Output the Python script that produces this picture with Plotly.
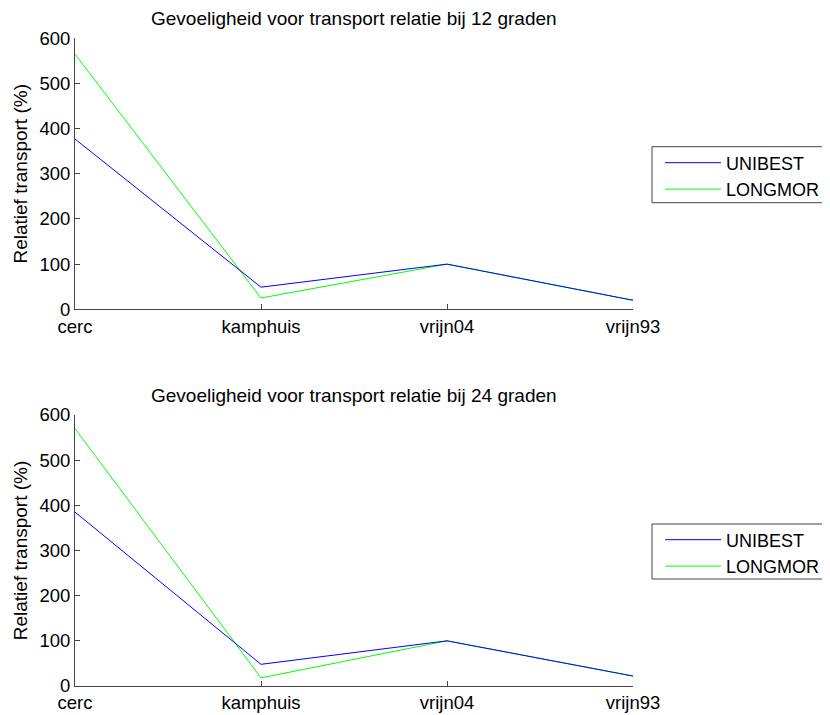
import plotly.graph_objects as go

# page is rendered inside a body with an 8px default margin
OFF = 8
W, H = 830 - OFF, 715 - OFF

categories = ["cerc", "kamphuis", "vrijn04", "vrijn93"]
unibest_12 = [377, 49, 100, 20]
longmor_12 = [565, 25, 100, 20]
unibest_24 = [385, 48, 100, 22]
longmor_24 = [570, 18, 100, 22]
y_ticks = [0, 100, 200, 300, 400, 500, 600]
titles = ["Gevoeligheid voor transport relatie bij 12 graden",
          "Gevoeligheid voor transport relatie bij 24 graden"]
ylabel = "Relatief transport (%)"

FONT = "Liberation Sans, Arial, sans-serif"
AX = "#444444"
BLUE = "#0000ff"
GREEN = "#00ff00"


def px_x(p):
    return (p - OFF) / W


def px_y(p):
    return 1 - (p - OFF) / H


fig = go.Figure()

fig.add_trace(go.Scatter(x=categories, y=longmor_12, mode="lines", name="LONGMOR",
                         line=dict(color=GREEN, width=1), xaxis="x", yaxis="y", legend="legend"))
fig.add_trace(go.Scatter(x=categories, y=unibest_12, mode="lines", name="UNIBEST",
                         line=dict(color=BLUE, width=1), xaxis="x", yaxis="y", legend="legend"))
fig.add_trace(go.Scatter(x=categories, y=longmor_24, mode="lines", name="LONGMOR",
                         line=dict(color=GREEN, width=1), xaxis="x2", yaxis="y2", legend="legend2"))
fig.add_trace(go.Scatter(x=categories, y=unibest_24, mode="lines", name="UNIBEST",
                         line=dict(color=BLUE, width=1), xaxis="x2", yaxis="y2", legend="legend2"))

xdom = [px_x(75), px_x(633)]
axis_common = dict(showgrid=False, zeroline=False, showline=True, linecolor=AX, linewidth=1,
                   ticks="inside", ticklen=5, tickcolor=AX, mirror=False,
                   tickfont=dict(family=FONT, size=18.5, color="black"), automargin=False)

xcommon = dict(axis_common, type="category", categoryorder="array", categoryarray=categories,
               range=[0, 3], domain=xdom)
ycommon = dict(axis_common, range=[0, 600], tickvals=y_ticks,
               title=dict(text=ylabel, font=dict(family=FONT, size=19, color="black"), standoff=6))

legend_common = dict(bgcolor="rgba(0,0,0,0)", borderwidth=0, traceorder="reversed",
                     font=dict(family=FONT, size=18, color="black"), xanchor="left", yanchor="top",
                     x=px_x(660), tracegroupgap=0, itemwidth=56)

# legend frames (top, bottom) in page pixels
frames = [(652, 146.7, 840, 202.7), (652, 524, 840, 579)]
shapes = [dict(type="rect", xref="paper", yref="paper", x0=px_x(a), x1=px_x(c),
               y0=px_y(d), y1=px_y(b), line=dict(color=AX, width=1), fillcolor="white",
               layer="above") for a, b, c, d in frames]

fig.update_layout(
    width=W, height=H,
    margin=dict(l=0, r=0, t=0, b=0),
    paper_bgcolor="white", plot_bgcolor="white",
    font=dict(family=FONT, size=18, color="black"),
    xaxis=dict(xcommon, anchor="y"),
    yaxis=dict(ycommon, domain=[px_y(309.3), px_y(38.3)], anchor="x"),
    xaxis2=dict(xcommon, anchor="y2"),
    yaxis2=dict(ycommon, domain=[px_y(686), px_y(415)], anchor="x2"),
    legend=dict(legend_common, y=px_y(144.5)),
    legend2=dict(legend_common, y=px_y(521.5)),
    showlegend=True,
    shapes=shapes,
    annotations=[
        dict(text=titles[0], x=(xdom[0] + xdom[1]) / 2, y=px_y(18), xref="paper", yref="paper",
             showarrow=False, xanchor="center", yanchor="middle",
             font=dict(family=FONT, size=19, color="black")),
        dict(text=titles[1], x=(xdom[0] + xdom[1]) / 2, y=px_y(395), xref="paper", yref="paper",
             showarrow=False, xanchor="center", yanchor="middle",
             font=dict(family=FONT, size=19, color="black")),
    ],
)

fig.write_html("out.html")
